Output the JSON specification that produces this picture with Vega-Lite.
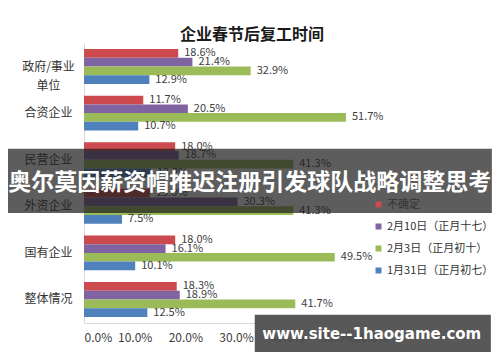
{
  "$schema": "https://vega.github.io/schema/vega-lite/v6.json",
  "autosize": {"type": "none"},
  "padding": {"left": 84, "top": 43, "right": 112, "bottom": 39},
  "width": 304,
  "height": 280,
  "background": "white",
  "config": {
    "font": "Noto Sans CJK SC",
    "view": {"stroke": null},
    "axisX": {
      "grid": false,
      "ticks": false,
      "domainColor": "#d9d9d9",
      "labelFontSize": 12,
      "labelColor": "#404040",
      "labelPadding": 9,
      "labelOverlap": false
    },
    "axisY": {
      "ticks": false,
      "domainColor": "#d9d9d9",
      "labelFontSize": 12,
      "labelColor": "#333333",
      "labelAlign": "center",
      "labelPadding": 36,
      "labelLineHeight": 19
    }
  },
  "title": {
    "text": "企业春节后复工时间",
    "fontSize": 16,
    "fontWeight": "bold",
    "color": "#1a1a1a",
    "anchor": "middle",
    "dx": 16,
    "offset": 0
  },
  "layer": [
    {
      "data": {"name": "main"},
      "mark": {"type": "bar"},
      "encoding": {
        "y": {
          "field": "cat",
          "type": "nominal",
          "scale": {"domain": ["政府/事业单位", "合资企业", "民营企业", "外资企业", "国有企业", "整体情况"], "paddingInner": 0.25, "paddingOuter": 0.13},
          "axis": {
            "title": null,
            "labelExpr": "datum.value == '政府/事业单位' ? ['政府/事业', '单位'] : datum.value"
          }
        },
        "x": {
          "field": "value",
          "type": "quantitative",
          "scale": {"domain": [0, 0.6]},
          "axis": {
            "title": null,
            "values": [0, 0.1, 0.2, 0.3, 0.4, 0.5, 0.6],
            "format": ".1%"
          }
        },
        "yOffset": {
          "field": "series",
          "sort": ["不确定", "2月10日（正月十七）", "2月3日（正月初十）", "1月31日（正月初七）"]
        },
        "color": {
          "field": "series",
          "type": "nominal",
          "sort": ["不确定", "2月10日（正月十七）", "2月3日（正月初十）", "1月31日（正月初七）"],
          "scale": {
            "domain": ["不确定", "2月10日（正月十七）", "2月3日（正月初十）", "1月31日（正月初七）"],
            "range": ["#cc4a4e", "#8064a2", "#9bbb59", "#4f81bd"]
          },
          "legend": {
            "title": null,
            "orient": "none",
            "legendX": 289,
            "legendY": 156,
            "symbolType": "square",
            "symbolSize": 36,
            "labelFontSize": 11,
            "labelColor": "#333333",
            "rowPadding": 10,
            "labelOffset": 3
          }
        }
      }
    },
    {
      "data": {"name": "main"},
      "mark": {"type": "text", "align": "left", "baseline": "middle", "dx": 6, "fontSize": 11, "color": "#404040"},
      "encoding": {
        "y": {
          "field": "cat",
          "type": "nominal",
          "scale": {"domain": ["政府/事业单位", "合资企业", "民营企业", "外资企业", "国有企业", "整体情况"], "paddingInner": 0.25, "paddingOuter": 0.13}
        },
        "x": {
          "field": "value",
          "type": "quantitative",
          "scale": {"domain": [0, 0.6]}
        },
        "yOffset": {
          "field": "series",
          "sort": ["不确定", "2月10日（正月十七）", "2月3日（正月初十）", "1月31日（正月初七）"]
        },
        "text": {"field": "value", "type": "quantitative", "format": ".1%"}
      }
    },
    {
      "data": {"name": "banner"},
      "mark": {"type": "rect", "color": "#1e1e1e", "opacity": 0.72},
      "encoding": {
        "x": {"datum": -0.15, "scale": {"domain": [0, 0.6]}, "title": null},
        "x2": {"datum": 0.805},
        "y": {"datum": "民营企业", "bandPosition": 0.19, "title": null},
        "y2": {"datum": "外资企业", "bandPosition": 0.69}
      }
    },
    {
      "data": {"name": "banner"},
      "mark": {"type": "text", "align": "center", "baseline": "middle", "fontSize": 23, "fontWeight": "bold", "color": "white"},
      "encoding": {
        "x": {"datum": 0.327, "title": null},
        "y": {"datum": "民营企业", "bandPosition": 1.16, "title": null},
        "text": {"field": "label"}
      }
    },
    {
      "data": {"name": "mark"},
      "mark": {"type": "rect", "color": "#4a4a4a", "opacity": 0.92},
      "encoding": {
        "x": {"datum": 0.337, "title": null},
        "x2": {"datum": 0.803},
        "y": {"datum": "整体情况", "bandPosition": 0.94, "title": null},
        "y2": {"datum": "整体情况", "bandPosition": 2.0}
      }
    },
    {
      "data": {"name": "mark"},
      "mark": {"type": "text", "align": "center", "baseline": "middle", "fontSize": 15, "fontWeight": "bold", "color": "white", "font": "DejaVu Sans"},
      "encoding": {
        "x": {"datum": 0.568, "title": null},
        "y": {"datum": "整体情况", "bandPosition": 1.49, "title": null},
        "text": {"field": "label"}
      }
    }
  ],
  "datasets": {
    "main": [
      {"cat": "政府/事业单位", "series": "不确定", "value": 0.186},
      {"cat": "政府/事业单位", "series": "2月10日（正月十七）", "value": 0.214},
      {"cat": "政府/事业单位", "series": "2月3日（正月初十）", "value": 0.329},
      {"cat": "政府/事业单位", "series": "1月31日（正月初七）", "value": 0.129},
      {"cat": "合资企业", "series": "不确定", "value": 0.117},
      {"cat": "合资企业", "series": "2月10日（正月十七）", "value": 0.205},
      {"cat": "合资企业", "series": "2月3日（正月初十）", "value": 0.517},
      {"cat": "合资企业", "series": "1月31日（正月初七）", "value": 0.107},
      {"cat": "民营企业", "series": "不确定", "value": 0.180},
      {"cat": "民营企业", "series": "2月10日（正月十七）", "value": 0.187},
      {"cat": "民营企业", "series": "2月3日（正月初十）", "value": 0.413},
      {"cat": "民营企业", "series": "1月31日（正月初七）", "value": 0.132},
      {"cat": "外资企业", "series": "不确定", "value": 0.130},
      {"cat": "外资企业", "series": "2月10日（正月十七）", "value": 0.303},
      {"cat": "外资企业", "series": "2月3日（正月初十）", "value": 0.413},
      {"cat": "外资企业", "series": "1月31日（正月初七）", "value": 0.075},
      {"cat": "国有企业", "series": "不确定", "value": 0.180},
      {"cat": "国有企业", "series": "2月10日（正月十七）", "value": 0.161},
      {"cat": "国有企业", "series": "2月3日（正月初十）", "value": 0.495},
      {"cat": "国有企业", "series": "1月31日（正月初七）", "value": 0.101},
      {"cat": "整体情况", "series": "不确定", "value": 0.183},
      {"cat": "整体情况", "series": "2月10日（正月十七）", "value": 0.189},
      {"cat": "整体情况", "series": "2月3日（正月初十）", "value": 0.417},
      {"cat": "整体情况", "series": "1月31日（正月初七）", "value": 0.125}
    ],
    "banner": [{"label": "奥尔莫因薪资帽推迟注册引发球队战略调整思考"}],
    "mark": [{"label": "www.site--1haogame.com"}]
  }
}
